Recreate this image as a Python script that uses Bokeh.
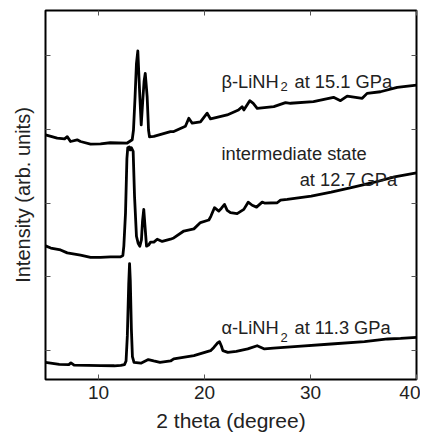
from bokeh.plotting import figure
from bokeh.models import Range1d, LinearAxis, FixedTicker, Label
from bokeh.embed import file_html
from bokeh.resources import INLINE

# ---- data (2 theta in degrees, intensity in arbitrary units, curves offset) ----
tt_alpha = [5.0, 6.3, 7.2, 7.4, 7.7, 9.0, 10.2, 11.5, 12.1, 12.45, 12.6, 12.72, 12.85, 12.93,
            13.0, 13.1, 13.2, 13.35, 14.0, 14.7, 15.2, 15.8, 16.8, 17.1, 19.0, 20.57, 20.88,
            21.2, 21.42, 21.6, 21.73, 22.2, 23.0, 24.08, 24.97, 25.66, 26.5, 28.8, 31.95,
            35.09, 37.29, 38.5, 40.0]
int_alpha = [-0.158, -0.185, -0.19, -0.165, -0.195, -0.20, -0.202, -0.205, -0.20, -0.19,
             -0.14, 0.2, 0.9, 1.18, 0.95, 0.3, -0.08, -0.16, -0.17, -0.121, -0.14, -0.16,
             -0.14, -0.112, -0.067, 0.0, 0.044, 0.10, 0.121, 0.06, 0.0, -0.023, -0.01,
             0.023, 0.067, 0.023, 0.035, 0.058, 0.090, 0.121, 0.158, 0.165, 0.179]

tt_mid = [5.0, 5.5, 6.42, 7.05, 8.3, 9.25, 10.19, 11.13, 12.08, 12.3, 12.39, 12.55, 12.68,
          12.76, 12.9, 13.0, 13.1, 13.27, 13.40, 13.58, 13.75, 13.90, 14.05, 14.15, 14.27,
          14.38, 14.53, 14.72, 14.91, 15.22, 15.54, 16.01, 16.79, 17.10, 18.05, 19.0, 19.62,
          20.41, 20.6, 20.94, 21.35, 21.6, 21.89, 22.14, 22.45, 23.08, 23.71, 24.12, 24.5,
          24.91, 25.44, 25.66, 26.86, 27.17, 27.80, 30.07, 31.95, 34.15, 36.04, 37.92, 40.0]
int_mid = [1.419, 1.39, 1.365, 1.325, 1.294, 1.263, 1.263, 1.27, 1.271, 1.29, 1.415, 1.87,
           2.6, 2.75, 2.76, 2.72, 2.75, 2.70, 2.089, 1.55, 1.45, 1.415, 1.50, 1.75, 1.914,
           1.70, 1.415, 1.43, 1.47, 1.47, 1.51, 1.48, 1.51, 1.527, 1.621, 1.65, 1.735,
           1.770, 1.82, 1.937, 1.891, 1.93, 1.981, 1.90, 1.869, 1.856, 1.914, 2.012, 1.97,
           1.945, 2.012, 2.0, 2.004, 2.039, 2.049, 2.093, 2.147, 2.220, 2.282, 2.354, 2.408]

tt_beta = [5.0, 6.1, 6.8, 7.05, 7.36, 7.99, 8.3, 9.25, 10.19, 11.1, 12.71, 13.18, 13.30,
           13.45, 13.58, 13.71, 13.82, 13.90, 14.03, 14.2, 14.30, 14.41, 14.50, 14.59, 14.72,
           14.81, 15.22, 16.79, 17.10, 18.2, 18.52, 18.84, 19.62, 20.25, 20.57, 22.14, 23.2,
           23.55, 23.71, 24.27, 24.6, 24.97, 26.54, 27.64, 28.11, 30.28, 32.17, 32.83, 33.46,
           34.88, 35.34, 36.60, 38.18, 40.0]
int_beta = [2.925, 2.880, 2.87, 2.90, 2.834, 2.857, 2.834, 2.799, 2.803, 2.817, 2.813, 2.857,
            2.99, 3.44, 3.89, 4.061, 3.7, 3.44, 3.06, 3.44, 3.65, 3.756, 3.6, 3.44, 2.99,
            2.898, 2.903, 2.969, 2.969, 3.04, 3.149, 3.082, 3.1, 3.217, 3.140, 3.194, 3.26,
            3.306, 3.261, 3.387, 3.35, 3.284, 3.306, 3.360, 3.352, 3.373, 3.433, 3.387, 3.450,
            3.419, 3.486, 3.508, 3.567, 3.598]

x_ticks = [10, 20, 30, 40]
y_ticks = [0, 1, 2, 3, 4]

FONT = "Liberation Sans"

p = figure(width=420, height=434, x_range=Range1d(5, 40), y_range=Range1d(-0.391, 4.609),
           output_backend="svg", toolbar_location=None,
           min_border_left=45, min_border_right=4, min_border_top=10, min_border_bottom=53)
p.xgrid.visible = False
p.ygrid.visible = False
p.outline_line_color = "black"
p.outline_line_width = 2
p.background_fill_color = "white"
p.border_fill_color = "white"


def style_axis(ax, labels=True):
    ax.axis_line_color = None
    ax.major_tick_in = 5
    ax.major_tick_out = 0
    ax.minor_tick_line_color = None
    ax.major_tick_line_color = "#555555"
    ax.major_tick_line_width = 1
    ax.axis_label_text_font = FONT
    ax.axis_label_text_font_style = "normal"
    ax.axis_label_text_color = "#222222"
    ax.major_label_text_font = FONT
    ax.major_label_text_font_size = "19px"
    if labels:
        ax.major_label_text_color = "#222222"
        ax.major_label_standoff = 6
    else:
        ax.major_label_text_color = None
        ax.major_label_standoff = 0


xa = p.xaxis[0]
xa.ticker = FixedTicker(ticks=x_ticks)
xa.axis_label = "2 theta (degree)"
style_axis(xa)
xa.axis_label_text_font_size = "21px"
xa.axis_label_standoff = 7

ya = p.yaxis[0]
ya.ticker = FixedTicker(ticks=y_ticks)
ya.axis_label = "Intensity (arb. units)"
style_axis(ya, labels=False)
ya.axis_label_text_font_size = "20px"
ya.axis_label_standoff = 12

top = LinearAxis(ticker=FixedTicker(ticks=x_ticks))
style_axis(top, labels=False)
p.add_layout(top, "above")

right = LinearAxis(ticker=FixedTicker(ticks=y_ticks))
style_axis(right, labels=False)
p.add_layout(right, "right")

for xs, ys in ((tt_alpha, int_alpha), (tt_mid, int_mid), (tt_beta, int_beta)):
    p.line(xs, ys, line_color="black", line_width=2.8, line_join="round")

TS = "18.3px"
SUB = "13px"


def lab(x, y, text, size=TS, align="left"):
    p.add_layout(Label(x=x, y=y, text=text, text_font=FONT, text_font_size=size,
                       text_color="#222222", text_align=align, text_baseline="alphabetic"))


lab(21.60, 3.643, "β-LiNH")
lab(27.17, 3.585, "2", SUB)
lab(28.49, 3.643, "at 15.1 GPa")
lab(21.60, 2.678, "intermediate state")
lab(38.18, 2.318, "at 12.7 GPa", align="right")
lab(21.60, 0.314, "α-LiNH")
lab(27.17, 0.179, "2", SUB)
lab(28.49, 0.314, "at 11.3 GPa")

open("out.html", "w").write(file_html(p, INLINE))
